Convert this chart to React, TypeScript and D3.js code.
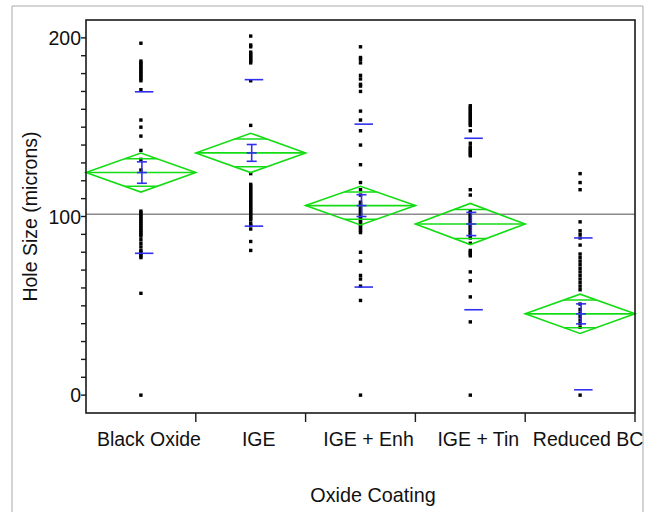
import React from "react";
import * as d3 from "d3";

const categories = ["Black Oxide", "IGE", "IGE + Enh", "IGE + Tin", "Reduced BC"];

const blackOxide = [0, 57, 77, 78, 79, 80, 81, 83, 85, 87, 89, 90, 91, 92, 93, 94, 95, 96, 97, 98, 99, 100, 101, 102, 103, 126, 132, 137, 145, 150, 154, 171, 176, 177, 178, 179, 180, 181, 182, 183, 184, 185, 186, 187, 197];
const ige = [81, 86, 93, 95, 96, 98, 99, 100, 101, 102, 103, 104, 105, 106, 107, 108, 109, 110, 111, 112, 113, 114, 115, 116, 117, 118, 124, 151, 176, 186, 187, 188, 189, 190, 191, 192, 195, 196, 201];
const igeEnh = [0, 53, 61, 65, 67, 75, 80, 91, 92, 93, 94, 95, 96, 97, 98, 99, 100, 101, 102, 103, 104, 105, 106, 107, 108, 112, 115, 119, 129, 140, 148, 154, 159, 170, 173, 174, 177, 179, 186, 188, 189, 195];
const igeTin = [0, 41, 55, 64, 69, 78, 79, 80, 81, 85, 88, 89, 90, 91, 92, 93, 94, 95, 96, 97, 98, 99, 100, 101, 102, 103, 112, 115, 134, 135, 136, 137, 138, 139, 141, 148, 151, 152, 153, 154, 155, 156, 157, 158, 159, 160, 161, 162];
const reducedBC = [0, 38, 40, 42, 44, 46, 48, 51, 59, 61, 63, 65, 67, 69, 71, 73, 75, 77, 79, 84, 88, 90, 92, 97, 115, 119, 124];

const groupValues = [blackOxide, ige, igeEnh, igeTin, reducedBC];
const means = [124.6, 135.6, 106.1, 95.8, 45.5];
const ciHalf = [10.9, 11.0, 10.8, 11.5, 11.0];
const seHalf = [6.0, 4.7, 6.1, 6.5, 5.6];
const sds = [45.2, 41.0, 45.6, 48.0, 42.5];
const grandMean = 101.3;
const majorTicks = [0, 100, 200];
const minorTicks = d3.range(0, 201, 10);

const FONT = "'Liberation Sans', Arial, sans-serif";
const GREEN = "#14dc14";
const BLUE = "#3030ee";

export default function App() {
  const left = 86, right = 635, top = 20, bottom = 413;
  const x = d3.scaleBand<string>().domain(categories).range([left, right]).paddingInner(0).paddingOuter(0);
  const y = d3.scaleLinear().domain([-10, 210]).range([bottom, top]);
  const bw = x.bandwidth();

  return (
    <svg width={660} height={512} style={{ position: "absolute", left: 0, top: 0, background: "#fff" }}>
      <defs>
        <clipPath id="outer">
          <rect x={0} y={0} width={643} height={512} />
        </clipPath>
      </defs>
      {/* outer panel frame */}
      <path d={`M12,512 V6 H643 V512`} fill="none" stroke="#a8a8a8" strokeWidth={1} />

      {/* grand mean line */}
      <line x1={left} x2={right} y1={y(grandMean)} y2={y(grandMean)} stroke="#8a8a8a" strokeWidth={1.6} />

      {/* points */}
      {groupValues.map((vals, gi) => {
        const cx = (x(categories[gi]) as number) + bw / 2;
        return (
          <g key={"p" + gi}>
            {vals.map((v, i) => (
              <rect key={i} x={cx - 1.7} y={y(v) - 1.7} width={3.4} height={3.4} fill="#000" />
            ))}
          </g>
        );
      })}

      {/* diamonds */}
      {categories.map((c, gi) => {
        const x0 = x(c) as number;
        const x1 = x0 + bw;
        const cx = x0 + bw / 2;
        const m = means[gi];
        const ci = ciHalf[gi];
        const ov = ci / Math.SQRT2;
        const hw = (bw / 2) * (1 - 1 / Math.SQRT2);
        return (
          <g key={"d" + gi} stroke={GREEN} strokeWidth={1.6} fill="none">
            <path d={`M${x0},${y(m)} L${cx},${y(m + ci)} L${x1},${y(m)} L${cx},${y(m - ci)} Z`} />
            <line x1={x0} x2={x1} y1={y(m)} y2={y(m)} />
            <line x1={cx - hw} x2={cx + hw} y1={y(m + ov)} y2={y(m + ov)} />
            <line x1={cx - hw} x2={cx + hw} y1={y(m - ov)} y2={y(m - ov)} />
          </g>
        );
      })}

      {/* blue error bars and sd lines */}
      {categories.map((c, gi) => {
        const cx = (x(c) as number) + bw / 2;
        const m = means[gi];
        const se = seHalf[gi];
        const sd = sds[gi];
        const bx = cx + 1;
        return (
          <g key={"b" + gi} stroke={BLUE} strokeWidth={1.6}>
            <line x1={bx} x2={bx} y1={y(m + se)} y2={y(m - se)} />
            <line x1={bx - 5} x2={bx + 5} y1={y(m + se)} y2={y(m + se)} />
            <line x1={bx - 5} x2={bx + 5} y1={y(m - se)} y2={y(m - se)} />
            <line x1={bx - 5} x2={bx + 5} y1={y(m)} y2={y(m)} />
            <line x1={cx - 6} x2={cx + 12.5} y1={y(m + sd)} y2={y(m + sd)} />
            <line x1={cx - 6} x2={cx + 12.5} y1={y(m - sd)} y2={y(m - sd)} />
          </g>
        );
      })}

      {/* plot frame */}
      <rect x={left} y={top} width={right - left} height={bottom - top} fill="none" stroke="#1a1a1a" strokeWidth={1.6} />

      {/* y ticks */}
      {minorTicks.map((t) => (
        <line key={"yt" + t} x1={left - 5} x2={left} y1={y(t)} y2={y(t)} stroke="#1a1a1a" strokeWidth={1.4} />
      ))}
      {majorTicks.map((t) => (
        <text key={"yl" + t} x={left - 5} y={y(t) + 7} textAnchor="end" fontFamily={FONT} fontSize={19.5} fill="#111">
          {t}
        </text>
      ))}

      {/* x ticks */}
      {categories.map((c) => {
        const xe = (x(c) as number) + bw;
        return <line key={"xt" + c} x1={xe} x2={xe} y1={bottom} y2={bottom + 9} stroke="#1a1a1a" strokeWidth={1.4} />;
      })}
      <g clipPath="url(#outer)">
        {categories.map((c) => (
          <text key={"xl" + c} x={(x(c) as number) + bw / 2 + 8} y={446} textAnchor="middle" fontFamily={FONT} fontSize={19.5} fill="#111">
            {c}
          </text>
        ))}
      </g>

      {/* axis titles */}
      <text x={373} y={502} textAnchor="middle" fontFamily={FONT} fontSize={19.8} fill="#111">
        Oxide Coating
      </text>
      <text transform={`translate(37,216.5) rotate(-90)`} textAnchor="middle" fontFamily={FONT} fontSize={19.5} fill="#111">
        Hole Size (microns)
      </text>
    </svg>
  );
}
